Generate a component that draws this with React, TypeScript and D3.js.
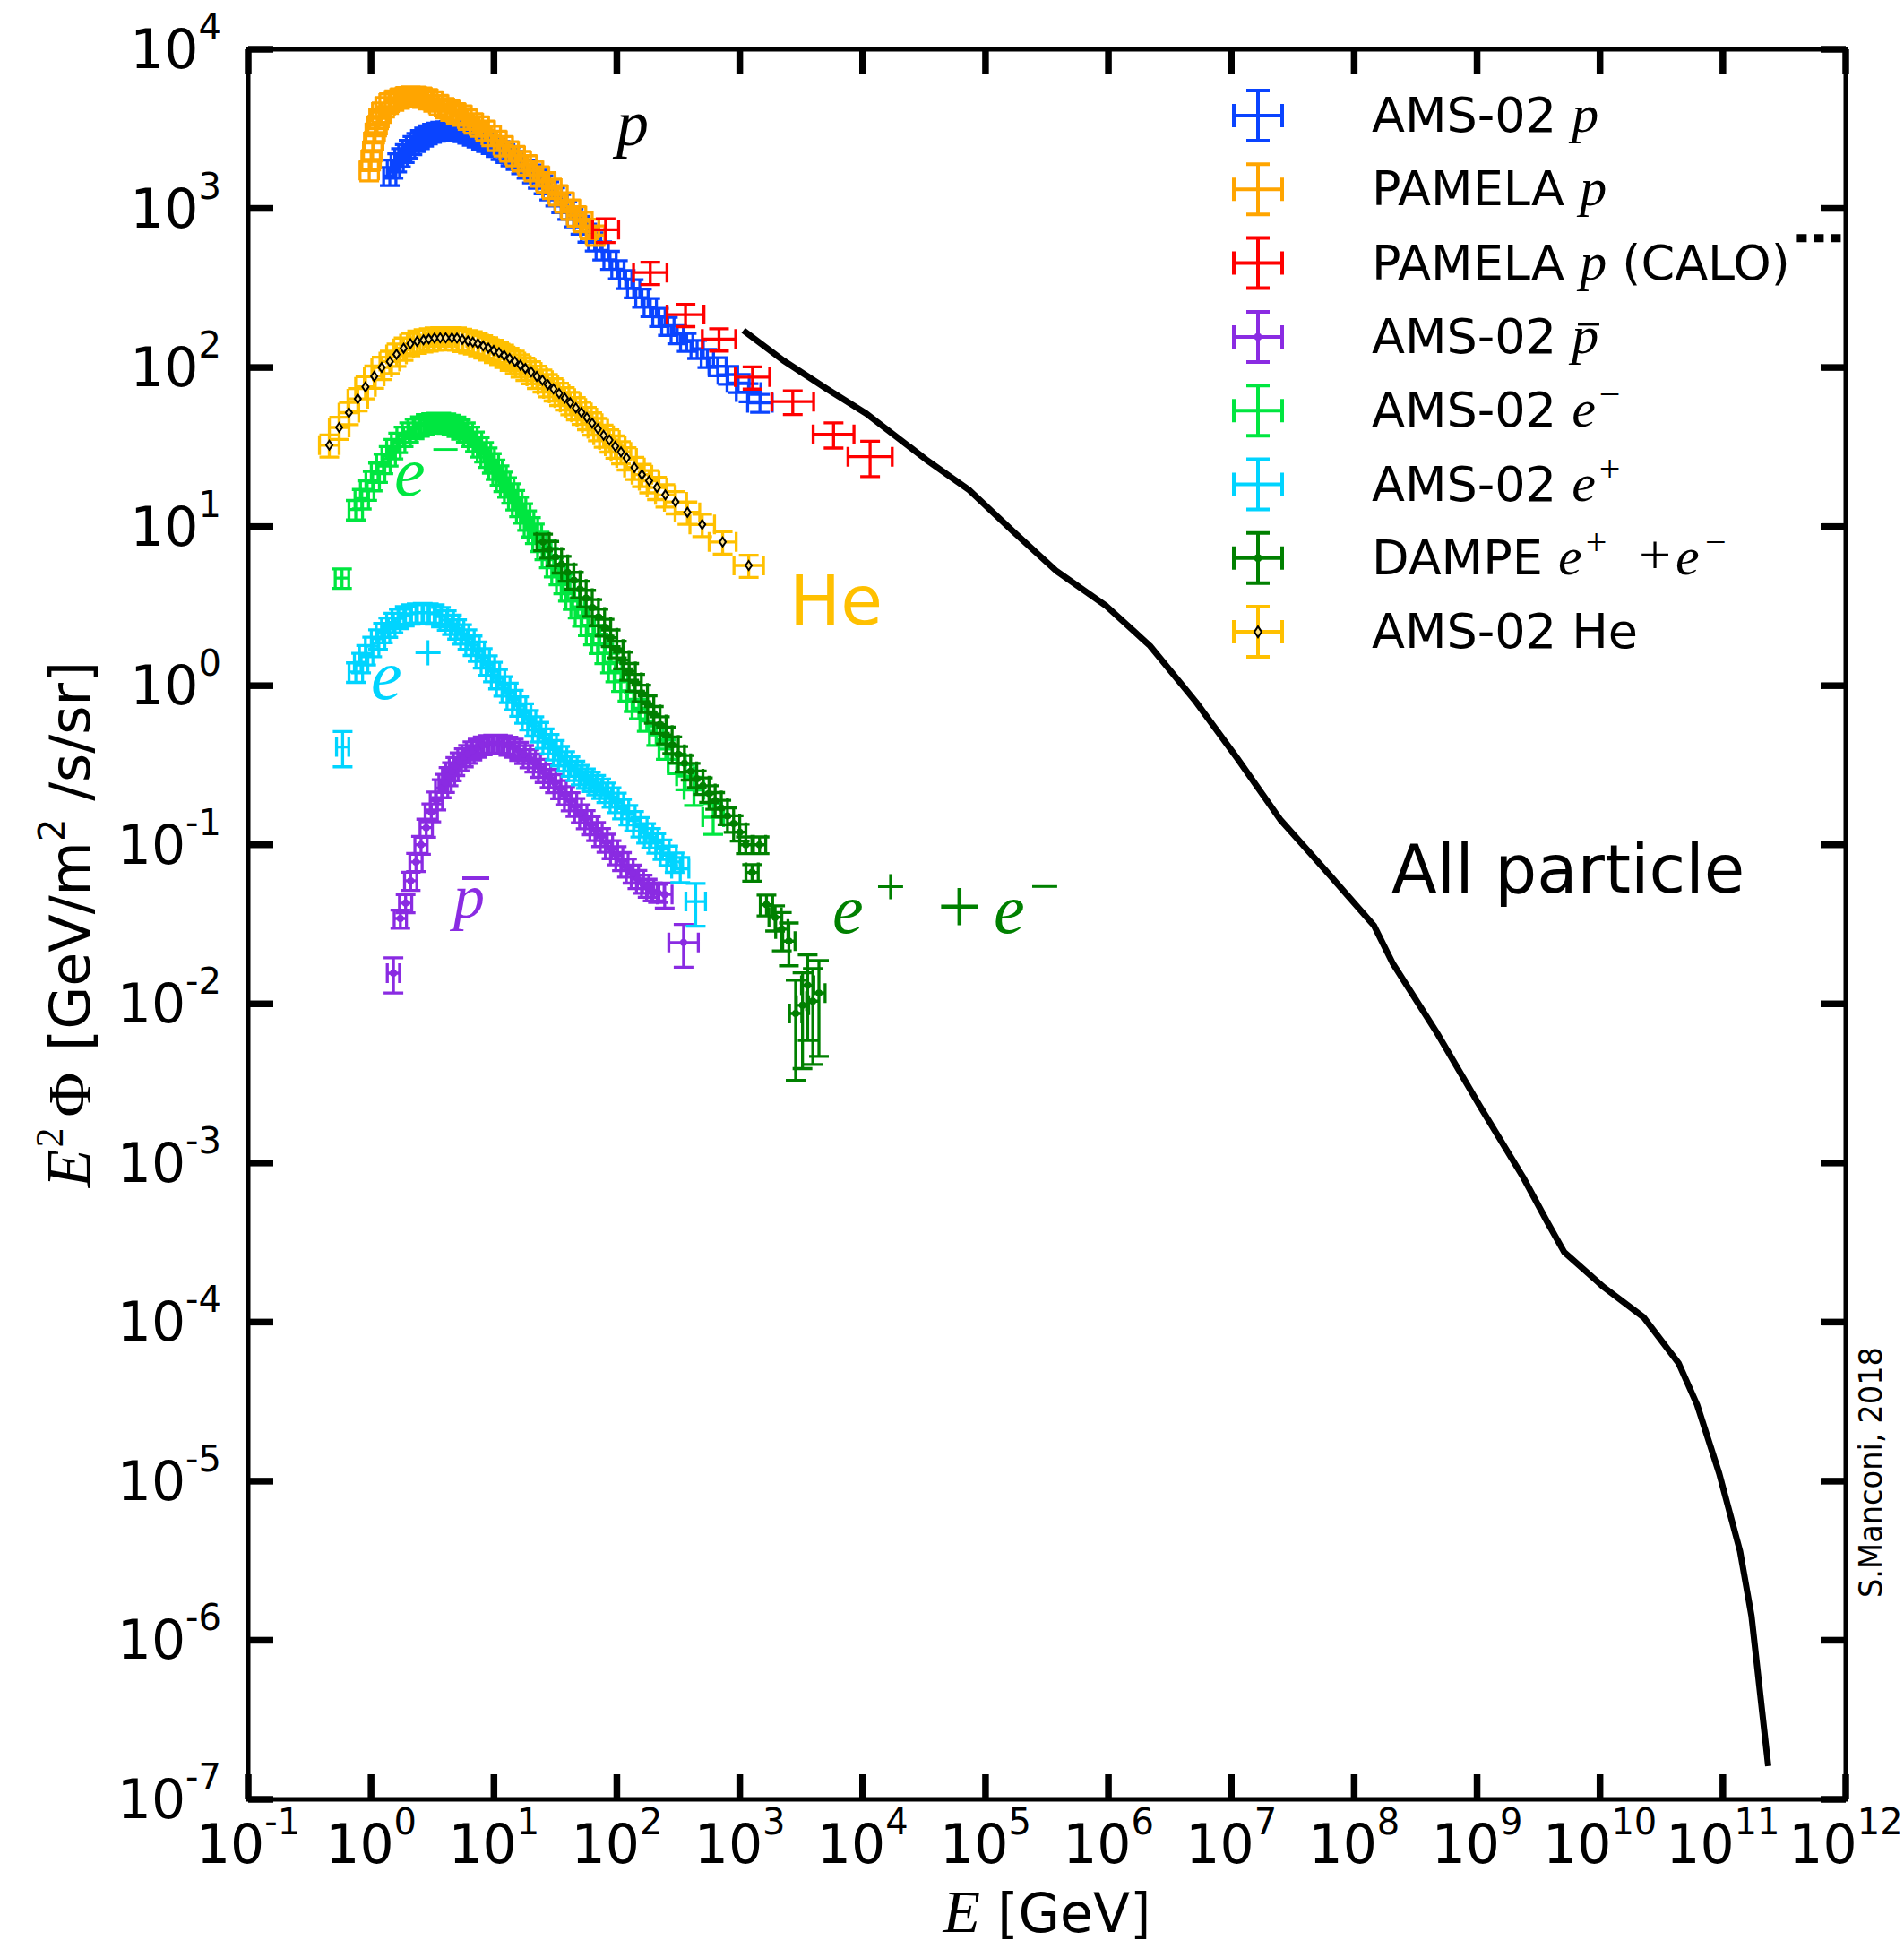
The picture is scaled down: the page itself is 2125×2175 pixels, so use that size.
import React from 'react';
import * as d3 from 'd3';

// [E (GeV), E^2 Phi (GeV/m^2/s/sr), x half-width in dex (optional), relative y error (optional)]
type Pt = [number, number, number?, number?];

const amsProton: Pt[] = [
  [1.42, 1600], [1.52, 1780], [1.63, 1950], [1.75, 2100], [1.88, 2230], [2.02, 2370], [2.17, 2500],
  [2.33, 2620], [2.5, 2730], [2.7, 2830], [2.9, 2920], [3.13, 2990], [3.38, 3040], [3.65, 3080],
  [3.95, 3100], [4.3, 3110], [4.7, 3100], [5.1, 3070], [5.55, 3020], [6.05, 2950], [6.6, 2870],
  [7.2, 2790], [7.85, 2700], [8.6, 2620], [9.4, 2540], [10.3, 2440], [11.3, 2330], [12.4, 2230],
  [13.6, 2130], [15, 2020], [16.6, 1900], [18.4, 1780], [20.4, 1660], [22.7, 1540], [25.3, 1420],
  [28.2, 1300], [31.5, 1190], [35.2, 1080], [39.5, 980], [44.5, 880], [50.5, 790], [57.5, 705],
  [66, 620], [76, 545], [88, 475], [102, 415], [118, 360], [137, 315], [160, 275], [187, 240],
  [220, 208], [260, 183], [310, 162], [370, 145], [450, 131], [545, 115], [660, 102, 0.07],
  [800, 90, 0.08], [970, 80, 0.09], [1180, 70, 0.1], [1460, 60, 0.1],
];

const pamelaProton: Pt[] = [
  [0.966, 1730], [1.0, 2030], [1.03, 2310], [1.05, 2630], [1.08, 2990], [1.12, 3320], [1.16, 3680],
  [1.22, 4030], [1.3, 4360], [1.4, 4600], [1.55, 4800], [1.72, 4950], [1.9, 5050], [2.1, 5090],
  [2.35, 5080], [2.6, 5020], [2.9, 4900], [3.2, 4750], [3.55, 4500], [3.95, 4300], [4.4, 4150],
  [4.9, 4000], [5.5, 3870], [6.1, 3650], [6.8, 3450], [7.6, 3300], [8.5, 3100], [9.5, 2880],
  [10.6, 2680], [11.9, 2480], [13.3, 2300], [14.9, 2150], [16.7, 2000], [18.7, 1880], [21, 1730],
  [23.5, 1600], [26.4, 1470], [29.6, 1340], [33.2, 1220], [37.3, 1100], [42, 990], [47, 900],
  [53, 830], [60, 750], [67, 680],
];

const pamelaCalo: Pt[] = [
  [81, 735, 0.106, 0.17], [187, 395, 0.136, 0.16], [362, 215, 0.15, 0.16], [678, 151, 0.136, 0.16],
  [1270, 87, 0.14, 0.16], [2700, 61, 0.17, 0.17], [5800, 38, 0.166, 0.18], [11500, 27.5, 0.18, 0.25],
];

const amsAntiproton: Pt[] = [
  [1.52, 0.0156, 0.05, 0.25], [1.73, 0.0344], [1.91, 0.043], [2.1, 0.0594], [2.32, 0.078], [2.55, 0.1],
  [2.81, 0.128], [3.09, 0.16], [3.4, 0.19], [3.75, 0.227], [4.0, 0.245], [4.27, 0.27], [4.55, 0.29],
  [4.85, 0.313], [5.25, 0.335], [5.69, 0.355], [6.15, 0.373], [6.68, 0.392], [7.35, 0.408], [8.1, 0.422],
  [8.9, 0.43], [9.84, 0.433], [10.8, 0.432], [11.9, 0.428], [13.1, 0.42], [14.5, 0.408], [16, 0.39],
  [17.6, 0.372], [19.4, 0.35], [21.3, 0.329], [23.5, 0.305], [25.8, 0.283], [28.4, 0.263], [31.3, 0.244],
  [34.5, 0.224], [38, 0.205], [42, 0.188], [46, 0.173], [50.8, 0.158], [55.8, 0.145], [61.5, 0.133],
  [67.7, 0.122], [74.5, 0.112], [82.2, 0.103], [90.5, 0.094], [99.7, 0.086], [110, 0.079], [121, 0.072],
  [134, 0.066], [147, 0.061], [162, 0.057], [178, 0.0537], [196, 0.051], [216, 0.0499],
  [245, 0.0487, 0.06, 0.18], [349, 0.0243, 0.12, 0.3],
];

const amsElectron: Pt[] = [
  [0.58, 4.75], [0.75, 12.8], [0.84, 15], [0.93, 17.0], [1.03, 19.5], [1.14, 22.0], [1.26, 25],
  [1.39, 27.9], [1.52, 31], [1.66, 33.9], [1.84, 37], [2.04, 39.4], [2.26, 41.5], [2.5, 43.0],
  [2.78, 44.3], [3.08, 45.0], [3.4, 45.3], [3.72, 45.3], [4.1, 44.8], [4.51, 44], [4.95, 42.8],
  [5.38, 41.2], [5.9, 39.3], [6.43, 37.0], [7.0, 34.5], [7.67, 31.8], [8.3, 29.6], [8.89, 27.4],
  [9.6, 25.2], [10.3, 23.0], [11.1, 21.1], [11.9, 19.3], [12.8, 17.8], [13.8, 16.3], [14.9, 14.8],
  [16.0, 13.4], [17.3, 12.2], [18.6, 11.0], [20, 10], [21.5, 9.1], [23.5, 8.1], [25.7, 7.2], [28, 6.4],
  [30.6, 5.6], [33.5, 5.0], [36.6, 4.4], [40, 3.95], [43.7, 3.5], [48, 3.1], [52, 2.75], [58, 2.4],
  [64, 2.1], [71, 1.85], [79, 1.6], [88, 1.4], [97, 1.23], [108, 1.07], [122, 0.93], [137, 0.8],
  [151, 0.72], [175, 0.6], [209, 0.49], [250, 0.4], [307, 0.325, 0.07], [360, 0.27, 0.07, 0.18],
  [424, 0.221, 0.08, 0.2], [608, 0.149, 0.085, 0.22],
];

const amsPositron: Pt[] = [
  [0.587, 0.412, 0.05, 0.25], [0.751, 1.22], [0.83, 1.4], [0.912, 1.57], [1.02, 1.77], [1.14, 1.97],
  [1.25, 2.16], [1.38, 2.34], [1.52, 2.5], [1.68, 2.65], [1.88, 2.76], [2.1, 2.83], [2.35, 2.87],
  [2.63, 2.88], [2.95, 2.87], [3.3, 2.83], [3.7, 2.72], [4.13, 2.59], [4.55, 2.44], [5.01, 2.28],
  [5.5, 2.12], [6.08, 1.97], [6.7, 1.8], [7.36, 1.65], [8.1, 1.5], [8.93, 1.35], [9.8, 1.23],
  [10.8, 1.11], [11.9, 1.0], [13.2, 0.91], [14.5, 0.82], [16, 0.747], [17.6, 0.675], [19.3, 0.612],
  [21.3, 0.56], [23.4, 0.515], [25.8, 0.47], [28.4, 0.433], [31.3, 0.397], [34.5, 0.364], [38, 0.337],
  [41.9, 0.313], [46, 0.294], [50.7, 0.277], [56, 0.263], [61.5, 0.251], [67.8, 0.239], [74.6, 0.227],
  [82, 0.214], [90.5, 0.2], [100, 0.185], [110, 0.169], [124, 0.155], [138, 0.142], [155, 0.13],
  [173, 0.119], [190, 0.111], [209, 0.103], [235, 0.094], [262, 0.086, 0.065], [295, 0.078, 0.065],
  [328, 0.0706, 0.07, 0.18], [438, 0.044, 0.08, 0.3],
];

const dampeAll: Pt[] = [
  [25.1, 8.0], [28.2, 7.2], [31.6, 6.45], [35.5, 5.8], [39.8, 5.15], [44.7, 4.6], [50.1, 4.05],
  [56.2, 3.55], [63.1, 3.1], [70.8, 2.7], [79.4, 2.33], [89.1, 2.0], [100, 1.7], [112, 1.45],
  [126, 1.23], [141, 1.05], [158, 0.9], [178, 0.77], [200, 0.66], [224, 0.57], [251, 0.49],
  [282, 0.425], [316, 0.37], [355, 0.325], [398, 0.29], [447, 0.26], [501, 0.235], [562, 0.21],
  [631, 0.19], [708, 0.17], [794, 0.152], [891, 0.136], [1000, 0.12], [1120, 0.1], [1260, 0.067],
  [1450, 0.1], [1650, 0.042, 0.05, 0.15], [1940, 0.035, 0.05, 0.18], [2200, 0.0295, 0.05, 0.27],
  [2510, 0.0248, 0.05, 0.3], [2850, 0.0087, 0.05, 0.62], [3240, 0.0098, 0.05, 0.6],
  [3570, 0.0131, 0.05, 0.55], [3930, 0.0104, 0.05, 0.6], [4410, 0.0117, 0.05, 0.6],
];

const amsHelium: Pt[] = [
  [0.457, 32.5], [0.55, 42], [0.66, 52], [0.78, 63.5], [0.9, 75.5], [1.06, 88], [1.22, 100], [1.42, 109],
  [1.61, 121], [1.84, 132], [2.09, 141], [2.37, 146], [2.67, 149], [2.95, 151], [3.28, 153], [3.65, 153.5],
  [4.05, 153.5], [4.55, 153.5], [5.0, 153], [5.53, 150], [6.14, 147], [6.73, 144.5], [7.4, 141],
  [8.17, 136.5], [9.0, 132.5], [9.95, 128], [11.0, 124], [12.1, 119], [13.4, 114], [14.8, 109],
  [16.4, 103.5], [18.0, 98.6], [20.1, 93.8], [22.3, 87.9], [24.8, 83.2], [27.5, 77.8], [30.5, 73.3],
  [33.9, 68.7], [37.7, 64.3], [41.7, 60.1], [46.4, 55.7], [51.5, 52.2], [57, 48.4], [63, 44.7],
  [70, 41.2], [78, 37.5], [87, 35], [97, 32], [108, 29.5], [120, 27], [139, 23.5], [160, 21.2],
  [183, 19.4], [212, 17.6], [248, 15.8], [300, 14.3, 0.09], [375, 12.3, 0.1], [495, 10.3, 0.1],
  [726, 8.0, 0.11], [1183, 5.7, 0.12],
];

const allParticle: [number, number][] = [
  [1.07e3, 171], [2.25e3, 111], [5.08e3, 73.6], [1.07e4, 51.4], [3.28e4, 26.4], [7.41e4, 16.9],
  [1.68e5, 9.31], [3.79e5, 5.24], [9.64e5, 3.16], [2.18e6, 1.78], [5.16e6, 0.79], [1.11e7, 0.352],
  [2.52e7, 0.143], [6.4e7, 0.0638], [1.45e8, 0.031], [2.05e8, 0.0181], [4.63e8, 0.00673],
  [1.05e9, 0.00229], [2.37e9, 8.13e-4], [3.78e9, 4.17e-4], [5.12e9, 2.75e-4], [1.07e10, 1.66e-4],
  [2.27e10, 1.07e-4], [4.37e10, 5.5e-5], [6.17e10, 3.02e-5], [9.33e10, 1.12e-5], [1.38e11, 3.63e-6],
  [1.71e11, 1.42e-6], [2.34e11, 1.62e-7],
];

const dottedTail: [number, number][] = [[4.0e11, 650], [9.5e11, 650]];

const xTickExps = [-1, 0, 1, 2, 3, 4, 5, 6, 7, 8, 9, 10, 11, 12];
const yTickExps = [-7, -6, -5, -4, -3, -2, -1, 0, 1, 2, 3, 4];

const sans = 'DejaVu Sans, Verdana, sans-serif';
const serif = 'Liberation Serif, Times New Roman, serif';

const W = 2125;
const H = 2175;
const X0 = 277, X1 = 2060, Y0 = 55, Y1 = 2008;

const x = d3.scaleLog().domain([1e-1, 1e12]).range([X0, X1]);
const y = d3.scaleLog().domain([1e-7, 1e4]).range([Y1, Y0]);

interface Series {
  data: Pt[];
  color: string;
  xErr: number;
  yErr: number;
  marker?: 'dot' | 'diamond';
}

const series: Series[] = [
  { data: amsProton, color: '#0a44ff', xErr: 0.05, yErr: 0.13 },
  { data: pamelaProton, color: '#ffa500', xErr: 0.075, yErr: 0.14 },
  { data: pamelaCalo, color: '#ff0000', xErr: 0.14, yErr: 0.16 },
  { data: amsAntiproton, color: '#8a2be2', xErr: 0.05, yErr: 0.13, marker: 'dot' },
  { data: amsElectron, color: '#00e640', xErr: 0.055, yErr: 0.14 },
  { data: amsPositron, color: '#00d4ff', xErr: 0.055, yErr: 0.14 },
  { data: dampeAll, color: '#008000', xErr: 0.05, yErr: 0.12, marker: 'dot' },
  { data: amsHelium, color: '#ffc000', xErr: 0.08, yErr: 0.16, marker: 'diamond' },
];

const CAP = 11;

function errPath(s: Series): string {
  let d = '';
  for (const p of s.data) {
    const [E, F, xe0, ye0] = p;
    const xe = xe0 ?? s.xErr;
    const ye = ye0 ?? s.yErr;
    const cx = x(E), cy = y(F);
    const xl = x(E / 10 ** xe), xr = x(E * 10 ** xe);
    const yt = y(F * (1 + ye)), yb = y(F * (1 - ye));
    d += `M${xl},${cy}H${xr}M${cx},${yt}V${yb}`;
    d += `M${xl},${cy - CAP}V${cy + CAP}M${xr},${cy - CAP}V${cy + CAP}`;
    d += `M${cx - CAP},${yt}H${cx + CAP}M${cx - CAP},${yb}H${cx + CAP}`;
  }
  return d;
}

const legendX = 1404;
const legendTextX = 1531;
const legendY0 = 129;
const legendStep = 82.3;

const M = (t: string, size = 60) => (
  <tspan fontFamily={serif} fontStyle="italic" fontSize={size}>{t}</tspan>
);
const Sup = (t: string) => (
  <tspan fontFamily={serif} fontSize={42} dy={-22} dx={4}>{t}</tspan>
);

const legendLabels: React.ReactNode[] = [
  <>AMS-02 {M('p')}</>,
  <>PAMELA {M('p')}</>,
  <>PAMELA {M('p')} (CALO)</>,
  <>AMS-02 {M('p')}</>,
  <>AMS-02 {M('e')}{Sup('\u2212')}</>,
  <>AMS-02 {M('e')}{Sup('+')}</>,
  <>DAMPE {M('e')}{Sup('+')}
    <tspan x={1829} dy={22} fontFamily={serif} fontSize={64}>+</tspan>
    <tspan x={1870} fontFamily={serif} fontStyle="italic" fontSize={60}>e</tspan>
    <tspan x={1903} dy={-22} fontFamily={serif} fontSize={42}>{'\u2212'}</tspan>
  </>,
  <>AMS-02 He</>,
];

const App: React.FC = () => {
  const curve = d3.line<[number, number]>().x((d) => x(d[0])).y((d) => y(d[1]));

  return (
    <svg width={W} height={H} style={{ position: 'absolute', left: 0, top: 0, background: '#fff' }}
      fontFamily={sans}>
      <rect x={0} y={0} width={W} height={H} fill="#fff" />

      {/* all particle spectrum */}
      <path d={curve(allParticle) || ''} fill="none" stroke="#000" strokeWidth={7} strokeLinejoin="round" />
      <path d={curve(dottedTail) || ''} fill="none" stroke="#000" strokeWidth={9} strokeDasharray="11,8" />

      {/* data sets */}
      {series.map((s, i) => (
        <g key={i}>
          <path d={errPath(s)} fill="none" stroke={s.color} strokeWidth={3.3} />
          {s.marker === 'dot' && s.data.map((p, j) => (
            <circle key={j} cx={x(p[0])} cy={y(p[1])} r={4} fill={s.color} />
          ))}
          {s.marker === 'diamond' && s.data.map((p, j) => {
            const cx = x(p[0]), cy = y(p[1]);
            return (
              <path key={j} d={`M${cx},${cy - 5}L${cx + 3.5},${cy}L${cx},${cy + 5}L${cx - 3.5},${cy}Z`}
                fill="#ffe28a" stroke="#000" strokeWidth={2} />
            );
          })}
        </g>
      ))}

      {/* frame and ticks */}
      <rect x={X0} y={Y0} width={X1 - X0} height={Y1 - Y0} fill="none" stroke="#000" strokeWidth={5} />
      {xTickExps.map((e) => {
        const tx = x(10 ** e);
        return (
          <g key={`xt${e}`}>
            <line x1={tx} x2={tx} y1={Y1} y2={Y1 - 28} stroke="#000" strokeWidth={7.5} />
            <line x1={tx} x2={tx} y1={Y0} y2={Y0 + 28} stroke="#000" strokeWidth={7.5} />
            <text x={tx} y={2079} textAnchor="middle" fontSize={60}>
              10<tspan fontSize={40} dy={-32}>{`${e}`}</tspan>
            </text>
          </g>
        );
      })}
      {yTickExps.map((e) => {
        const ty = y(10 ** e);
        return (
          <g key={`yt${e}`}>
            <line x1={X0} x2={X0 + 28} y1={ty} y2={ty} stroke="#000" strokeWidth={7.5} />
            <line x1={X1} x2={X1 - 28} y1={ty} y2={ty} stroke="#000" strokeWidth={7.5} />
            <text x={247} y={ty + 21} textAnchor="end" fontSize={60}>
              10<tspan fontSize={40} dy={-32}>{`${e}`}</tspan>
            </text>
          </g>
        );
      })}

      {/* axis labels */}
      <text x={(X0 + X1) / 2} y={2156} textAnchor="middle" fontSize={60}>
        <tspan fontFamily={serif} fontStyle="italic" fontSize={68}>E</tspan> [GeV]
      </text>
      <text transform={`translate(100,${(Y0 + Y1) / 2}) rotate(-90)`} textAnchor="middle" fontSize={62}>
        <tspan fontFamily={serif} fontStyle="italic" fontSize={70}>E</tspan>
        <tspan fontFamily={serif} fontSize={44} dy={-30} dx={2}>2</tspan>
        <tspan fontFamily={serif} fontSize={68} dy={30} dx={12}>Φ</tspan>
        <tspan dx={4}> [GeV/m</tspan>
        <tspan fontSize={40} dy={-28}>2</tspan>
        <tspan dy={28}> /s/sr]</tspan>
      </text>

      {/* legend */}
      {series.map((s, i) => {
        const cy = legendY0 + i * legendStep;
        const hx = 27, hy = 28, cap = 13;
        return (
          <g key={`lg${i}`}>
            <path
              d={`M${legendX - hx},${cy}H${legendX + hx}M${legendX},${cy - hy}V${cy + hy}` +
                `M${legendX - hx},${cy - cap}V${cy + cap}M${legendX + hx},${cy - cap}V${cy + cap}` +
                `M${legendX - cap},${cy - hy}H${legendX + cap}M${legendX - cap},${cy + hy}H${legendX + cap}`}
              fill="none" stroke={s.color} strokeWidth={4} />
            {s.marker === 'dot' && <circle cx={legendX} cy={cy} r={4.5} fill={s.color} />}
            {s.marker === 'diamond' && (
              <path d={`M${legendX},${cy - 6}L${legendX + 4},${cy}L${legendX},${cy + 6}L${legendX - 4},${cy}Z`}
                fill="#ffe28a" stroke="#000" strokeWidth={2} />
            )}
            <text x={legendTextX} y={cy + 18} fontSize={54}>{legendLabels[i]}</text>
          </g>
        );
      })}
      <line x1={1761} x2={1785} y1={legendY0 + 3 * legendStep - 14} y2={legendY0 + 3 * legendStep - 14}
        stroke="#000" strokeWidth={3} />

      {/* annotations */}
      <text x={688} y={162} fontFamily={serif} fontStyle="italic" fontSize={72}>p</text>
      <text x={881} y={697} fontSize={76} fill="#ffc000">He</text>
      <text x={440} y={553} fontFamily={serif} fontStyle="italic" fontSize={78} fill="#00e640">
        e<tspan fontStyle="normal" fontSize={58} dy={-32} dx={6}>{'\u2212'}</tspan>
      </text>
      <text x={414} y={780} fontFamily={serif} fontStyle="italic" fontSize={78} fill="#00d4ff">
        e<tspan fontStyle="normal" fontSize={60} dy={-32} dx={12}>+</tspan>
      </text>
      <text x={506} y={1024} fontFamily={serif} fontStyle="italic" fontSize={70} fill="#8a2be2">p</text>
      <line x1={516} x2={546} y1={980} y2={980} stroke="#8a2be2" strokeWidth={4} />
      <text y={1041} fontFamily={serif} fontSize={78} fill="#008000">
        <tspan x={929} fontStyle="italic">e</tspan>
        <tspan x={977} dy={-32} fontSize={60}>+</tspan>
        <tspan x={1046} dy={32} fontSize={88}>+</tspan>
        <tspan x={1109} fontStyle="italic">e</tspan>
        <tspan x={1149} dy={-32} fontSize={60}>{'\u2212'}</tspan>
      </text>
      <text x={1553} y={996} fontSize={74}>All particle</text>
      <text transform="translate(2100,1643) rotate(-90)" textAnchor="middle" fontSize={36}
        textLength={280} lengthAdjust="spacingAndGlyphs">S.Manconi, 2018</text>
    </svg>
  );
};

export default App;
